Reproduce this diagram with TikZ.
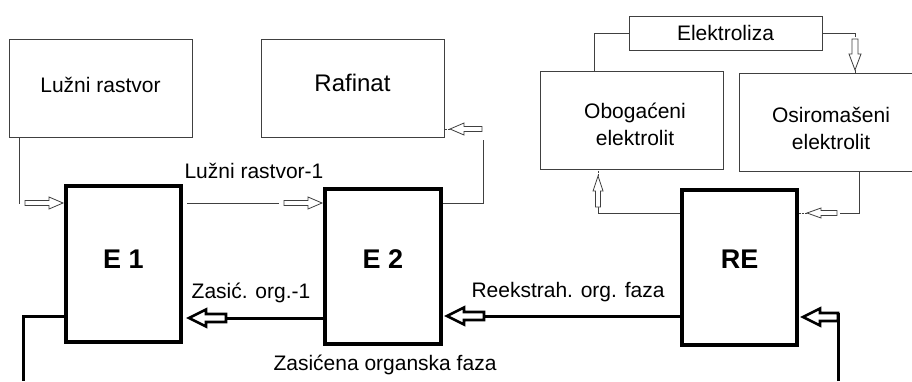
\documentclass[tikz,border=0pt]{standalone}
\usepackage{fontspec}
\setmainfont{Liberation Sans}
\usetikzlibrary{calc}
\tikzset{
  thinbox/.style={draw=black!75, line width=0.9pt, inner sep=0pt, align=center,
    font=\fontsize{21}{27}\selectfont},
  ebox/.style={draw=black, line width=4pt, inner sep=0pt},
  elab/.style={font=\fontsize{27}{30}\selectfont\bfseries},
  lab/.style={font=\fontsize{21}{24}\selectfont, inner sep=0pt},
  thinline/.style={draw=black!75, line width=0.9pt},
  thickline/.style={draw=black, line width=3pt},
  thinarr/.style={draw=black!75, line width=0.8pt, fill=white, line join=miter},
  thickarr/.style={draw=black, line width=2.6pt, fill=white, line join=miter},
}
% #1 style, #2 tip coordinate, #3 direction angle, #4 length, #5 shaft half, #6 head half, #7 head length
\newcommand\blockarr[7]{%
  \begin{scope}[shift={(#2)}, rotate=#3]
    \draw[#1] (0pt,0pt) -- (-#7pt,#6pt) -- (-#7pt,#5pt) -- (-#4pt,#5pt)
      -- (-#4pt,-#5pt) -- (-#7pt,-#5pt) -- (-#7pt,-#6pt) -- cycle;
  \end{scope}}
\begin{document}
\begin{tikzpicture}[x=1pt, y=-1pt]
\useasboundingbox[fill=white] (0,0) rectangle (912,381);

% boxes
\node[thinbox, minimum width=183pt, minimum height=98pt] (luz) at (100.5,88) {};
\node[lab] (luzt) at (100.5,85) {Lužni rastvor};
\node[thinbox, minimum width=183pt, minimum height=98pt] (raf) at (352.5,88) {};
\node[lab, font=\fontsize{24}{27}\selectfont] (raft) at (352.5,83) {Rafinat};
\node[thinbox, minimum width=193pt, minimum height=34pt] (elz) at (725.5,33) {Elektroliza};
\node[thinbox, minimum width=183pt, minimum height=98pt] (obo) at (631.5,120) {};
\node[lab, font=\fontsize{21}{27}\selectfont, align=center] (obot) at (635,124) {Obogaćeni\\elektrolit};
\node[thinbox, minimum width=182pt, minimum height=98pt] (osi) at (830,122) {};
\node[lab, font=\fontsize{21}{27}\selectfont, align=center] (osit) at (831,128) {Osiromašeni\\elektrolit};

\node[ebox, minimum width=115pt, minimum height=156pt, label={[elab, yshift=5pt]center:E 1}] (E1) at (123.5,264) {};
\node[ebox, minimum width=116pt, minimum height=155pt, label={[elab, yshift=7pt]center:E 2}] (E2) at (383,266.5) {};
\node[ebox, minimum width=115pt, minimum height=155pt, label={[elab, yshift=8pt]center:RE}] (RE) at (739.5,267.5) {};

% named points
\coordinate (a1) at (63,203);
\coordinate (a2) at (322,203);
\coordinate (a3) at (450,129);
\coordinate (a4) at (855,70);
\coordinate (a5) at (598,176);
\coordinate (a6) at (807,213);
\coordinate (b1) at (189,318);
\coordinate (b2) at (447,316);
\coordinate (b3) at (803,317);
\coordinate (botL) at (23,381);
\coordinate (botR) at (838,381);

% Luzni rastvor -> E1
\draw[thinline] (luz.south -| 19,0) -- (19,203) -- (20,203);
\blockarr{thinarr}{a1}{0}{38}{2.5}{6}{14}
% E1 -> E2
\draw[thinline] (E1.east |- 0,203) ++(4,0) -- (279,203);
\blockarr{thinarr}{a2}{0}{38}{2.5}{6}{14}
% E2 -> Rafinat
\draw[thinline] (E2.east |- 0,203) -- (483,203) -- (483,140);
\blockarr{thinarr}{a3}{180}{32}{2.5}{6}{14}
\draw[thinline, dash pattern=on 2pt off 1pt] (a3) -- (raf.east |- a3);
% Elektroliza -> Obogaceni / Osiromaseni
\draw[thinline] (elz.west) -- (594,33) -- (obo.north -| 594,0);
\draw[thinline] (elz.east) -- (855,33) -- (855,37);
\blockarr{thinarr}{a4}{-90}{31}{3}{6}{16}
\draw[thinline] (a4) -- (osi.north -| a4);
% RE -> Obogaceni
\draw[thinline] (RE.west |- 0,213) -- (598,213) -- (598,207);
\blockarr{thinarr}{a5}{90}{31}{2.5}{5}{15}
\draw[thinline, dash pattern=on 2pt off 1pt] (a5) -- (obo.south -| a5);
% Osiromaseni -> RE
\draw[thinline] (osi.south -| 859,0) -- (859,213) -- (840,213);
\blockarr{thinarr}{a6}{180}{30}{2.5}{5}{14}
\draw[thinline, dash pattern=on 2pt off 1pt] (a6) -- (RE.east |- a6);

% thick organic phase lines
\draw[thickline] (E2.west |- 0,318) -- (226,318);
\blockarr{thickarr}{b1}{180}{37}{4}{8.5}{17}
\draw[thickline] (RE.west |- 0,316) -- (484,316);
\blockarr{thickarr}{b2}{180}{37}{4}{8.5}{17}
\draw[thickline] (botR) -- (838,313);
\blockarr{thickarr}{b3}{180}{35}{4}{8.5}{17}
\draw[thickline] (E1.west |- 0,316) -- (23,316) -- (botL);

% labels
\node[lab] (l1) at (254,171) {Lužni rastvor-1};
\node[lab] (l2) at (251,293) {Zasić. org.-1};
\node[lab] (l3) at (568,292) {Reekstrah. org. faza};
\node[lab] (l4) at (385,365) {Zasićena organska faza};
\end{tikzpicture}
\end{document}
